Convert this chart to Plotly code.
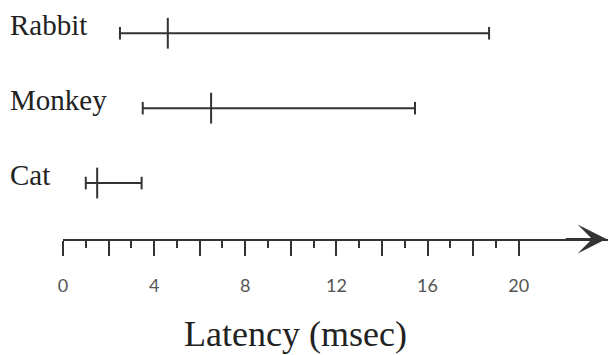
import plotly.graph_objects as go

# ---- data ----
species = ["Cat", "Monkey", "Rabbit"]
row_pos = [1, 2, 3]
lat_min = [1.0, 3.5, 2.5]
lat_med = [1.5, 6.5, 4.6]
lat_max = [3.45, 15.45, 18.7]
major_ticks = [0, 2, 4, 6, 8, 10, 12, 14, 16, 18, 20]
tick_labels = ["0", "", "4", "", "8", "", "12", "", "16", "", "20"]
minor_ticks = [1, 3, 5, 7, 9, 11, 13, 15, 17, 19]
x_title = "Latency (msec)"

INK = "#333333"
W, H = 608, 355
ML, MR, MT, MB = 63, 0, 0, 116

fig = go.Figure()
for name, y, lo, hi in zip(species, row_pos, lat_min, lat_max):
    fig.add_trace(go.Scatter(
        x=[lo, hi], y=[y, y], mode="lines+markers",
        line=dict(color=INK, width=2),
        marker=dict(symbol="line-ns", size=9, line=dict(color=INK, width=2)),
        showlegend=False, hoverinfo="skip", cliponaxis=False))
fig.add_trace(go.Scatter(
    x=lat_med, y=row_pos, mode="markers",
    marker=dict(symbol="line-ns", size=22, line=dict(color=INK, width=2)),
    showlegend=False, hoverinfo="skip", cliponaxis=False))

annotations = []
plot_w = W - ML - MR
for name, y in zip(species, row_pos):
    annotations.append(dict(
        text=name, x=(8 - ML) / plot_w, xref="paper", xanchor="left",
        y=y, yref="y", yanchor="middle", yshift=8, showarrow=False,
        font=dict(family="Liberation Serif", size=29, color="#222222")))
annotations.append(dict(
    text=x_title, x=(295 - ML) / plot_w, xref="paper", xanchor="center",
    y=-(334 - (H - MB)) / (H - MT - MB), yref="paper", yanchor="middle",
    showarrow=False,
    font=dict(family="Liberation Serif", size=36, color="#222222")))
# arrow head at end of the axis
annotations.append(dict(
    text="", x=23.85, xref="x", y=0, yref="paper",
    ax=22.0, axref="x", ay=0, ayref="pixel",
    showarrow=True, arrowhead=3, arrowsize=2.4, arrowwidth=2, arrowcolor=INK))

fig.update_layout(
    width=W, height=H, margin=dict(l=ML, r=MR, t=MT, b=MB),
    paper_bgcolor="white", plot_bgcolor="white",
    annotations=annotations,
    xaxis=dict(range=[0, 23.92], showgrid=False, zeroline=False,
               showline=True, linecolor=INK, linewidth=2,
               ticks="outside", ticklen=15, tickwidth=2, tickcolor=INK,
               tickvals=major_ticks, ticktext=tick_labels,
               ticklabelstandoff=14,
               tickfont=dict(family="Lato", size=18, color="#555555"),
               minor=dict(tickvals=minor_ticks, ticks="outside", ticklen=7,
                          tickwidth=2, tickcolor=INK)),
    yaxis=dict(range=[0.253, 3.444], visible=False),
)
fig.write_html("out.html")
